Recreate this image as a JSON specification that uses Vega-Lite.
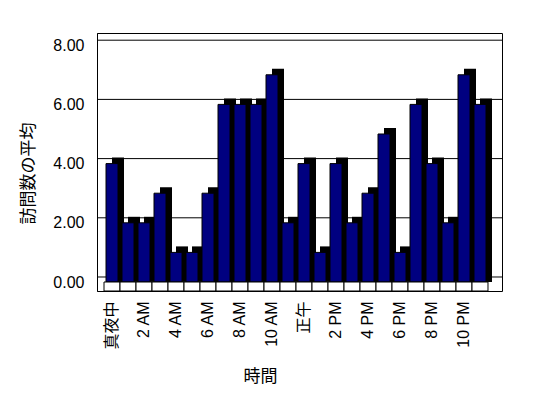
{
  "$schema": "https://vega.github.io/schema/vega-lite/v6.json",
  "width": 405,
  "height": 258,
  "autosize": {"type": "none"},
  "padding": {"left": 97, "top": 33, "right": 46, "bottom": 107},
  "background": "white",
  "config": {
    "view": {"stroke": "black", "strokeWidth": 1},
    "font": "Liberation Sans, Noto Sans CJK JP"
  },
  "datasets": {
    "visits": [
      {"時間": "真夜中", "訪問数の平均": 4},
      {"時間": "1 AM", "訪問数の平均": 2},
      {"時間": "2 AM", "訪問数の平均": 2},
      {"時間": "3 AM", "訪問数の平均": 3},
      {"時間": "4 AM", "訪問数の平均": 1},
      {"時間": "5 AM", "訪問数の平均": 1},
      {"時間": "6 AM", "訪問数の平均": 3},
      {"時間": "7 AM", "訪問数の平均": 6},
      {"時間": "8 AM", "訪問数の平均": 6},
      {"時間": "9 AM", "訪問数の平均": 6},
      {"時間": "10 AM", "訪問数の平均": 7},
      {"時間": "11 AM", "訪問数の平均": 2},
      {"時間": "正午", "訪問数の平均": 4},
      {"時間": "1 PM", "訪問数の平均": 1},
      {"時間": "2 PM", "訪問数の平均": 4},
      {"時間": "3 PM", "訪問数の平均": 2},
      {"時間": "4 PM", "訪問数の平均": 3},
      {"時間": "5 PM", "訪問数の平均": 5},
      {"時間": "6 PM", "訪問数の平均": 1},
      {"時間": "7 PM", "訪問数の平均": 6},
      {"時間": "8 PM", "訪問数の平均": 4},
      {"時間": "9 PM", "訪問数の平均": 2},
      {"時間": "10 PM", "訪問数の平均": 7},
      {"時間": "11 PM", "訪問数の平均": 6}
    ],
    "grid": [{"v": 0}, {"v": 2}, {"v": 4}, {"v": 6}, {"v": 8}]
  },
  "layer": [
    {
      "data": {"name": "grid"},
      "mark": {"type": "rule", "color": "black", "strokeWidth": 1},
      "encoding": {
        "y": {
          "field": "v",
          "type": "quantitative",
          "scale": {"domain": [-0.473, 8.243], "nice": false, "zero": false},
          "axis": null
        }
      }
    },
    {
      "data": {"name": "visits"},
      "encoding": {
        "x": {
          "field": "時間",
          "type": "nominal",
          "sort": null,
          "scale": {"paddingInner": 0.25, "paddingOuter": 0.78125, "align": 0.36},
          "axis": {
            "values": ["真夜中", "2 AM", "4 AM", "6 AM", "8 AM", "10 AM", "正午", "2 PM", "4 PM", "6 PM", "8 PM", "10 PM"],
            "labelAngle": -90,
            "ticks": false,
            "tickSize": 0,
            "domain": false,
            "labelPadding": 10,
            "labelFontSize": 16,
            "labelColor": "black",
            "title": "時間",
            "titleFontSize": 17,
            "titleFontWeight": "normal",
            "titleColor": "black",
            "titleX": 163,
            "titleY": 85,
            "titleBaseline": "middle"
          }
        },
        "y": {
          "field": "訪問数の平均",
          "type": "quantitative",
          "scale": {"domain": [-0.304, 8.412], "nice": false, "zero": false},
          "axis": {
            "values": [0, 2, 4, 6, 8],
            "format": ".2f",
            "grid": false,
            "ticks": false,
            "tickSize": 0,
            "domain": true,
            "domainColor": "black",
            "labelPadding": 13,
            "labelFontSize": 16,
            "labelColor": "black",
            "title": "訪問数の平均",
            "titleFontSize": 17,
            "titleFontWeight": "normal",
            "titleColor": "black",
            "titleX": -69,
            "titleY": 140,
            "titleAngle": -90,
            "titleAlign": "center",
            "titleBaseline": "middle"
          }
        }
      },
      "layer": [
        {
          "mark": {"type": "bar", "color": "black", "xOffset": 6, "x2Offset": 6, "yOffset": -6, "y2Offset": -6},
          "encoding": {"y2": {"datum": -0.2}}
        },
        {
          "mark": {"type": "bar", "color": "#000080", "stroke": "black", "strokeWidth": 1},
          "encoding": {"y2": {"datum": 0}}
        },
        {
          "mark": {"type": "bar", "fill": "white", "stroke": "black", "strokeWidth": 1, "width": {"band": 1.3333}},
          "encoding": {
            "y": {"datum": 0, "type": "quantitative"},
            "y2": {"datum": -0.304}
          }
        }
      ]
    }
  ],
  "resolve": {"scale": {"y": "independent"}}
}
